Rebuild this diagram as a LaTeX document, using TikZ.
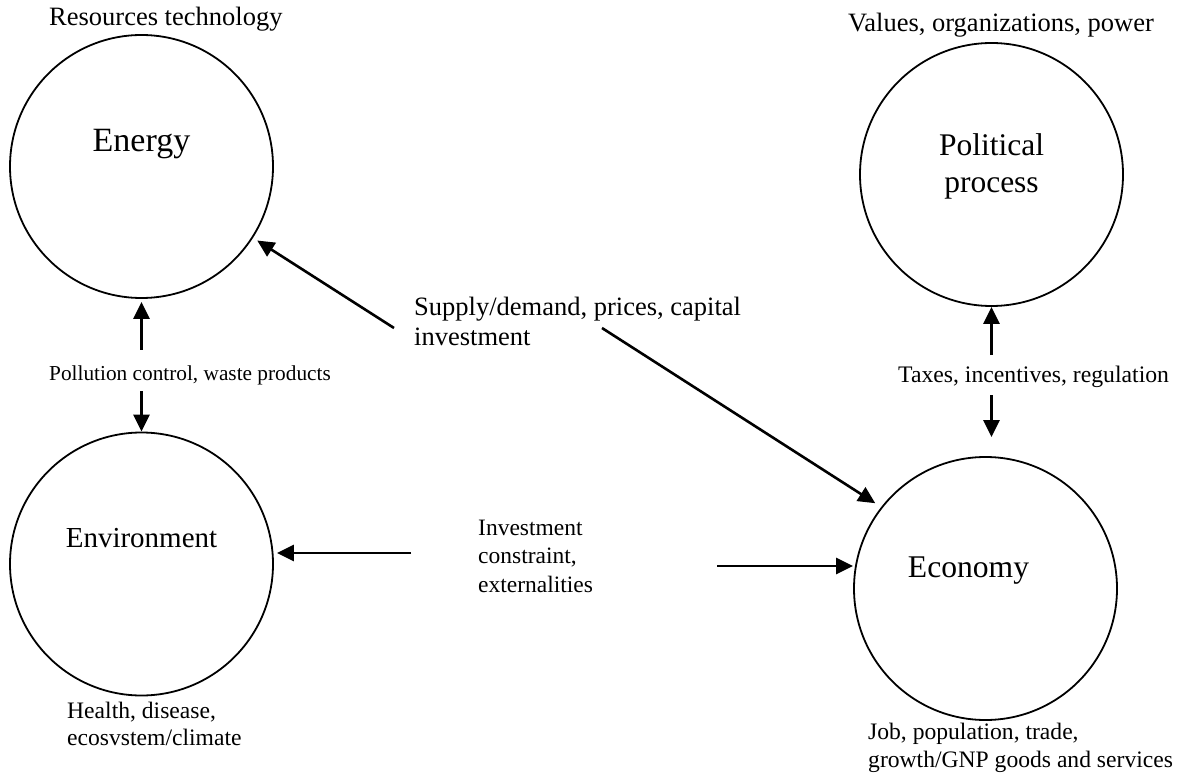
\documentclass[tikz,border=0pt]{standalone}
\usepackage{fontspec}
\setmainfont{Liberation Serif}
\usetikzlibrary{arrows.meta}
\newcommand{\fsz}[2]{\fontsize{#1}{#2}\selectfont}
\begin{document}
\begin{tikzpicture}[x=1pt,y=-1pt,
  sphere/.style={circle, draw, line width=1.8pt, minimum size=263pt, inner sep=0pt},
  link/.style={line width=2.6pt, -{Triangle[length=17pt,width=16pt]}},
  txt/.style={inner sep=0pt, anchor=base west, align=left},
  title/.style={inner sep=0pt, anchor=base, align=center}]
\useasboundingbox (0,0) rectangle (1180,775);

% the four spheres
\node[sphere] (energy)      at (141.5,166.5) {};
\node[sphere] (environment) at (141.5,564)   {};
\node[sphere] (political)   at (991.5,174.5) {};
\node[sphere] (economy)     at (985.5,588.5) {};

% sphere names (multi-line nodes sit on their last baseline)
\node[title, font=\fsz{34}{40}]     (energyname)  at (141.5,152) {Energy};
\node[title, font=\fsz{29}{35}]     (envname)     at (141.5,547) {Environment};
\node[title, font=\fsz{31.5}{37}]   (polname)     at (991.5,193) {Political\\process};
\node[title, font=\fsz{31.6}{37}]   (econname)    at (968.5,577) {Economy};

% surrounding notes
\node[txt, font=\fsz{26.5}{30}] (resources) at (49,26)  {Resources technology};
\node[txt, font=\fsz{26.5}{30}] (values)    at (848,32) {Values, organizations, power};
\node[txt, font=\fsz{23.6}{27}] (health)    at (67,745) {Health, disease,\\ecosvstem/climate};
\node[txt, font=\fsz{23.6}{28}] (jobs)      at (868,767) {Job, population, trade,\\growth/GNP goods and services};

% link labels
\node[txt, font=\fsz{26.5}{30}]   (supply)    at (414,345) {Supply/demand, prices, capital\\investment};
\node[txt, font=\fsz{21.3}{25}]   (pollution) at (49,380)  {Pollution control, waste products};
\node[txt, font=\fsz{23.7}{28}]   (taxes)     at (898,382) {Taxes, incentives, regulation};
\node[txt, font=\fsz{23.5}{28.5}] (invest)    at (478,592) {Investment\\constraint,\\externalities};

% free ends of the links
\coordinate (s1)  at (394,328);
\coordinate (s2)  at (602,328);
\coordinate (pc1) at (141.5,350);
\coordinate (pc2) at (141.5,391);
\coordinate (tc1) at (991.5,355);
\coordinate (tc2) at (991.5,395);
\coordinate (ic1) at (411,553);
\coordinate (ic2) at (717,566);

% links
\draw[link, shorten >=5pt] (s1) -- (energy);
\draw[link, shorten >=7pt] (s2) -- (economy.142);
\draw[link, shorten >=3pt] (pc1) -- (energy.south);
\draw[link] (pc2) -- (environment.north);
\draw[link] (tc1) -- (political.south);
\draw[link, shorten >=19pt] (tc2) -- (tc2 |- economy.north);
\draw[link, shorten >=3pt] (ic1) -- (ic1 -| environment.east);
\draw[link] (ic2) -- (ic2 -| economy.west);
\end{tikzpicture}
\end{document}
